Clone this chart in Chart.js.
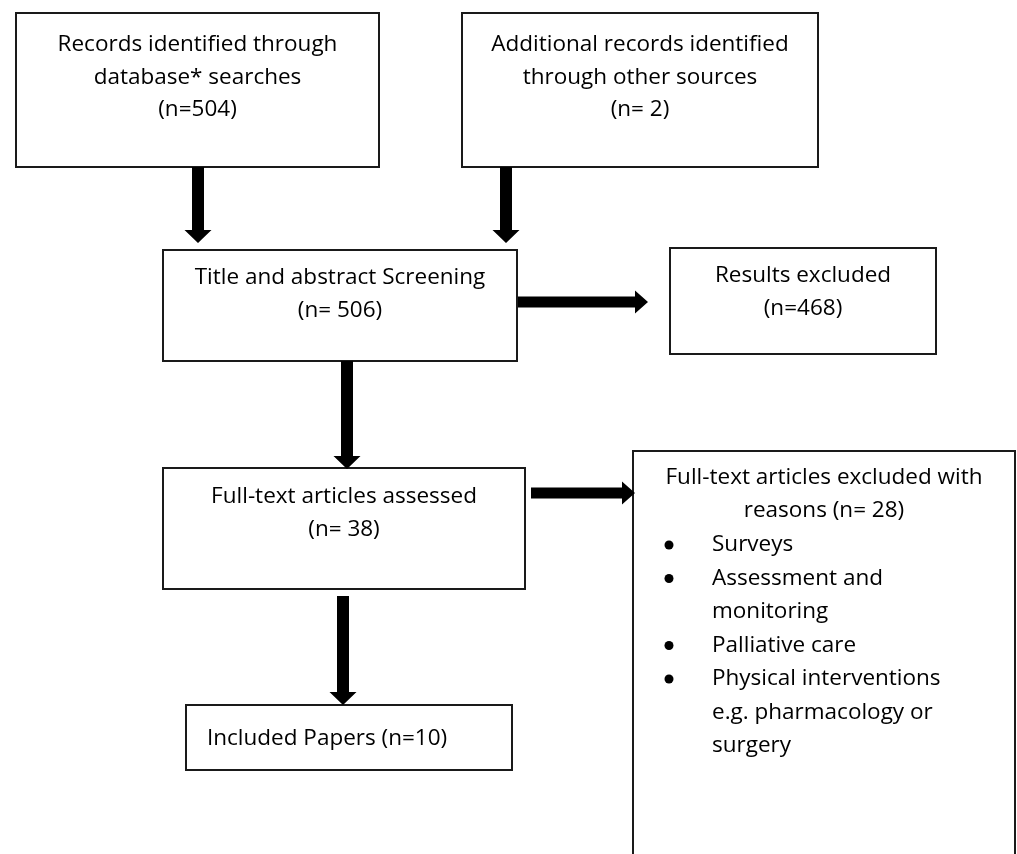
<!DOCTYPE html>
<html>
<head>
<meta charset="utf-8">
<script src="https://cdn.jsdelivr.net/npm/chart.js@4"></script>
<style>
  html, body { margin: 0; padding: 0; background: #fff; }
  #wrap { width: 1017px; height: 854px; position: relative; }
</style>
</head>
<body>
<div id="wrap"><canvas id="flow"></canvas></div>
<script>
// flow stages and their counts
const stages = [
  'Records identified through\ndatabase* searches',
  'Additional records identified\nthrough other sources',
  'Title and abstract Screening',
  'Results excluded',
  'Full-text articles assessed',
  'Included Papers',
  'Full-text articles excluded with\nreasons'
];
const counts = [504, 2, 506, 468, 38, 10, 28];
const countFormat = ['(n=%)', '(n= %)', '(n= %)', '(n=%)', '(n= %)', '(n=%)', '(n= %)'];
const reasons = ['Surveys', 'Assessment and\nmonitoring', 'Palliative care', 'Physical interventions\ne.g. pharmacology or\nsurgery'];
// arrows: from stage -> to stage
const links = [[0, 2], [1, 2], [2, 3], [2, 4], [4, 6], [4, 5]];

// layout (chart units = px of the reference)
const boxX0 = [16, 462, 163, 670, 163, 186, 633];
const boxX1 = [379, 818, 517, 936, 525, 512, 1015];
const boxY0 = [13, 13, 250, 248, 468, 705, 451];
const boxY1 = [167, 167, 361, 354, 589, 770, 880];
const textY = [45, 45, 278, 276, 497, 739, 478];
const arrowFrom = [[198, 167], [506, 167], [518, 302], [347, 361], [531, 493], [343, 596]];
const arrowTo = [[198, 243], [506, 243], [648, 302], [347, 469], [635, 493], [343, 705]];

const FONT = '22.5px "Open Sans"';
const LINE = 32.5;

function label(i) {
  return countFormat[i].replace('%', counts[i]);
}

const flowPlugin = {
  id: 'flow',
  afterDraw(chart) {
    const ctx = chart.ctx;
    const xs = chart.scales.x, ys = chart.scales.y;
    const px = v => xs.getPixelForValue(v);
    const py = v => ys.getPixelForValue(v);
    ctx.save();

    // boxes
    ctx.strokeStyle = '#1a1a1a';
    ctx.lineWidth = 2;
    for (let i = 0; i < stages.length; i++) {
      ctx.strokeRect(px(boxX0[i]), py(boxY0[i]), px(boxX1[i]) - px(boxX0[i]), py(boxY1[i]) - py(boxY0[i]));
    }

    // arrows
    ctx.fillStyle = '#000';
    links.forEach((l, k) => {
      const [x0, y0] = arrowFrom[k], [x1, y1] = arrowTo[k];
      const a = px(x0), b = py(y0), c = px(x1), d = py(y1);
      const vertical = Math.abs(c - a) < 1;
      const sw = vertical ? 6 : 5.5, hw = vertical ? 13.5 : 11.5, hl = 13;
      ctx.beginPath();
      if (vertical) {
        ctx.moveTo(a - sw, b); ctx.lineTo(a + sw, b); ctx.lineTo(a + sw, d - hl);
        ctx.lineTo(a + hw, d - hl); ctx.lineTo(a, d); ctx.lineTo(a - hw, d - hl);
        ctx.lineTo(a - sw, d - hl);
      } else {
        ctx.moveTo(a, b - sw); ctx.lineTo(a, b + sw); ctx.lineTo(c - hl, b + sw);
        ctx.lineTo(c - hl, b + hw); ctx.lineTo(c, b); ctx.lineTo(c - hl, b - hw);
        ctx.lineTo(c - hl, b - sw);
      }
      ctx.closePath();
      ctx.fill();
    });

    // texts
    ctx.font = FONT;
    ctx.fillStyle = '#000';
    ctx.textBaseline = 'middle';
    for (let i = 0; i < stages.length; i++) {
      const cx = px((boxX0[i] + boxX1[i]) / 2);
      let lines = stages[i].split('\n');
      if (i === 5) {
        ctx.textAlign = 'left';
        ctx.fillText(lines[0] + ' ' + label(i), px(207), py(textY[i]));
        continue;
      }
      if (i === 6) {
        lines[lines.length - 1] += ' ' + label(i);
      } else {
        lines.push(label(i));
      }
      ctx.textAlign = 'center';
      lines.forEach((t, j) => ctx.fillText(t, cx, py(textY[i] + j * LINE)));
    }

    // reasons list
    let y = textY[6] + 2 * LINE + 2;
    reasons.forEach(r => {
      ctx.beginPath();
      ctx.arc(px(669), py(y), 4.5, 0, Math.PI * 2);
      ctx.fill();
      ctx.textAlign = 'left';
      r.split('\n').forEach(t => {
        ctx.fillText(t, px(712), py(y));
        y += 33.5;
      });
    });
    ctx.restore();
  }
};

new Chart(document.getElementById('flow'), {
  type: 'scatter',
  data: { datasets: [{ data: [], pointRadius: 0 }] },
  options: {
    responsive: true,
    maintainAspectRatio: false,
    animation: false,
    layout: { padding: 0 },
    plugins: { legend: { display: false }, tooltip: { enabled: false } },
    scales: {
      x: { type: 'linear', min: 0, max: 1017, display: false },
      y: { type: 'linear', min: 0, max: 854, reverse: true, display: false }
    }
  },
  plugins: [flowPlugin]
});
</script>
</body>
</html>
